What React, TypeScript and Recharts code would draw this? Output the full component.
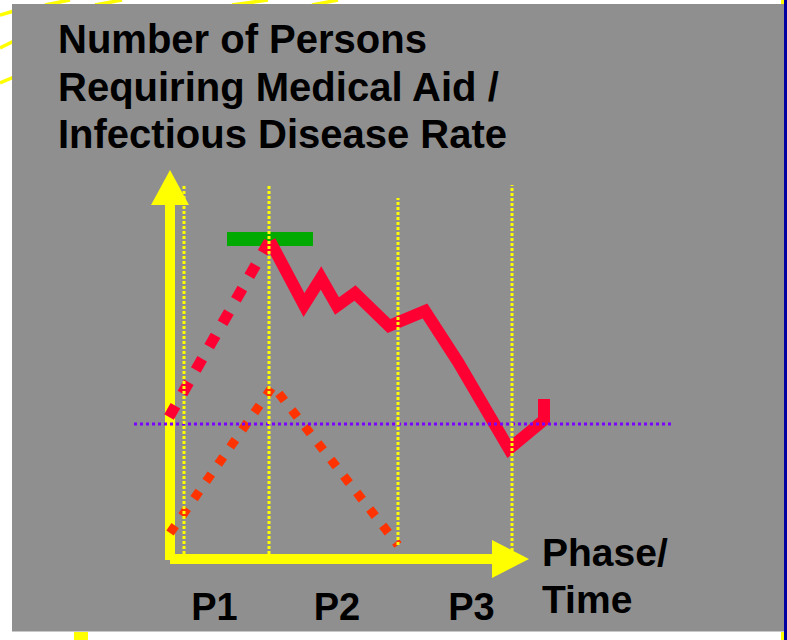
import React from 'react';
import { ComposedChart, Line, XAxis, YAxis } from 'recharts';

// units: x = time from the vertical axis, y = level above the time axis
const phaseLabels = ['P1', 'P2', 'P3'];
const phaseLabelX = [4.45, 16.7, 30.15];

const phaseLineX = [1.4, 9.9, 22.8, 34.2];
const phaseLineTop = [37.5, 37.5, 36.2, 37.5];
const phaseLineBottom = [0.6, 0.6, 1.5, 0.9];

// actual course (solid red)
const actualX = [10.0, 13.4, 15.1, 16.7, 18.5, 21.9, 25.5, 28.8, 33.9, 37.4, 37.4];
const actualY = [31.9, 25.5, 28.2, 25.4, 26.7, 23.4, 24.9, 19.8, 11.1, 14.0, 16.1];

// rise to the peak (dotted red)
const riseX = [-0.1, 10.0];
const riseY = [14.3, 32.0];

// normal course (dotted orange)
const normalX = [0.0, 10.3, 22.8];
const normalY = [2.7, 17.4, 1.5];

// threshold level (dotted purple)
const thresholdY = 13.6;
const thresholdX = [-3.6, 50.3];

// target bar (green)
const targetY = 32.1;
const targetX = [5.7, 14.3];

const yAxisTop = 35.5;
const yArrowTip = 39;
const xAxisEnd = 32.2;
const xArrowTip = 35.9;

const pts = (xs: number[], ys: number[]) => xs.map((x, i) => ({ x, y: ys[i] }));

const FONT = '"Liberation Sans", Arial, Helvetica, sans-serif';
const YELLOW = '#FFFF00';
const RED = '#FF0033';

const arrowTip = (props: any) => {
    const { cx, cy, payload, index } = props;
    if (cx == null || cy == null) return <g key={`tip-${index}`} />;
    const pointsStr = payload.dir === 'up'
        ? `${cx},${cy} ${cx - 19},${cy + 35} ${cx + 19},${cy + 35}`
        : `${cx},${cy} ${cx - 37},${cy - 19} ${cx - 37},${cy + 19}`;
    return <polygon key={`tip-${index}`} points={pointsStr} fill={YELLOW} />;
};

export default function App() {
    const common = {
        type: 'linear' as const,
        dataKey: 'y',
        dot: false,
        activeDot: false,
        isAnimationActive: false,
        legendType: 'none' as const,
    };

    return (
        <div style={{ position: 'absolute', left: 0, top: 0, width: 787, height: 640, background: '#fff', overflow: 'hidden' }}>
            {/* slide backdrop */}
            <svg width={787} height={640} style={{ position: 'absolute', left: 0, top: 0 }}>
                <g stroke={YELLOW} strokeWidth={3.5}>
                    <line x1={0} y1={15} x2={14} y2={11} />
                    <line x1={0} y1={48} x2={14} y2={41} />
                    <line x1={0} y1={83} x2={14} y2={77} />
                    <line x1={45} y1={5} x2={70} y2={0} />
                    <line x1={95} y1={5} x2={122} y2={0} />
                    <line x1={232} y1={5} x2={268} y2={0} />
                    <line x1={312} y1={5} x2={338} y2={0} />
                </g>
                <rect x={74} y={630} width={14} height={10} fill={YELLOW} />
                <rect x={781} y={0} width={3} height={640} fill={YELLOW} />
                <rect x={784} y={0} width={3} height={640} fill="#0000A0" />
                <rect x={12} y={4} width={772} height={628} fill="#8F8F8F" />
                <rect x={12} y={631} width={772} height={1} fill="#C8C8C8" />
            </svg>

            <div style={{ position: 'absolute', left: 0, top: 0 }}>
                <ComposedChart width={787} height={640} margin={{ top: 170, right: 97, bottom: 0, left: 130 }}>
                    <XAxis
                        type="number"
                        dataKey="x"
                        domain={[-4, 52]}
                        ticks={phaseLabelX}
                        interval={0}
                        tickFormatter={(v: number) => phaseLabels[phaseLabelX.indexOf(v)] ?? ''}
                        axisLine={false}
                        tickLine={false}
                        tickSize={0}
                        tickMargin={13}
                        height={60}
                        tick={{ fill: '#000', fontSize: 38, fontWeight: 'bold', fontFamily: FONT }}
                    />
                    <YAxis type="number" dataKey="y" domain={[-2, 39]} hide />

                    <Line {...common} data={pts(targetX, [targetY, targetY])} stroke="#00AA00" strokeWidth={14} />

                    <Line {...common} data={pts([0, 0], [0, yAxisTop])} stroke={YELLOW} strokeWidth={10} />
                    <Line {...common} data={pts([0, xAxisEnd], [0.1, 0.1])} stroke={YELLOW} strokeWidth={10} />
                    <Line
                        {...common}
                        data={[{ x: 0, y: yArrowTip, dir: 'up' }, { x: xArrowTip, y: 0.1, dir: 'right' }]}
                        stroke="none"
                        strokeWidth={0}
                        dot={arrowTip}
                    />

                    <Line {...common} data={pts(normalX, normalY)} stroke="#FF3300" strokeWidth={9} strokeDasharray="9 12" />
                    <Line {...common} data={pts(riseX, riseY)} stroke={RED} strokeWidth={11} strokeDasharray="13 14" />
                    <Line {...common} data={pts(actualX, actualY)} stroke={RED} strokeWidth={12} strokeLinejoin="miter" strokeMiterlimit={10} />

                    <Line {...common} data={pts(thresholdX, [thresholdY, thresholdY])} stroke="#7A00FF" strokeWidth={3} strokeDasharray="3 3" />

                    {phaseLineX.map((x, i) => (
                        <Line
                            key={`phase-${i}`}
                            {...common}
                            data={pts([x, x], [phaseLineBottom[i], phaseLineTop[i]])}
                            stroke={YELLOW}
                            strokeWidth={3}
                            strokeDasharray="3 2"
                        />
                    ))}
                </ComposedChart>
            </div>

            <svg width={787} height={640} style={{ position: 'absolute', left: 0, top: 0, pointerEvents: 'none' }}>
                <g fontFamily={FONT} fontWeight="bold" fill="#000">
                    <text x={58} y={53} fontSize={40}>Number of Persons</text>
                    <text x={58} y={100.5} fontSize={40}>Requiring Medical Aid /</text>
                    <text x={58} y={148} fontSize={40}>Infectious Disease Rate</text>
                    <text x={542} y={566} fontSize={39}>Phase/</text>
                    <text x={542} y={613} fontSize={39}>Time</text>
                </g>
            </svg>
        </div>
    );
}
